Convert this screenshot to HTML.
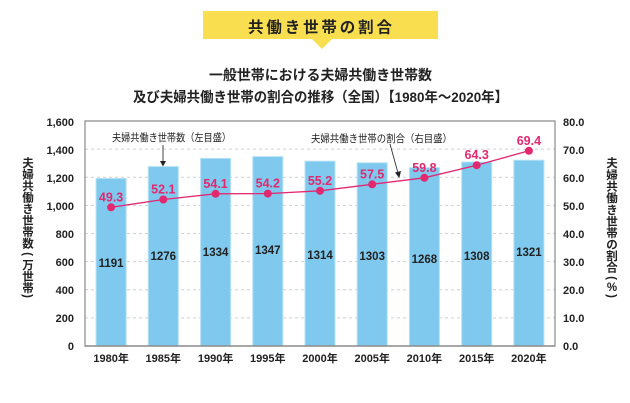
<!DOCTYPE html>
<html><head><meta charset="utf-8"><style>
html,body{margin:0;padding:0;background:#fff;}
svg{display:block;}
text{font-family:"Liberation Sans","Noto Sans CJK JP",sans-serif;}
</style></head><body>
<svg width="630" height="403" viewBox="0 0 630 403" xmlns="http://www.w3.org/2000/svg">
<!-- banner -->
<rect x="203" y="11" width="235" height="28" fill="#f9df4f"/>
<polygon points="312,39 332,39 322,49" fill="#f9df4f"/>
<text x="320" y="32.5" font-size="15.5" font-weight="bold" text-anchor="middle" textLength="144" lengthAdjust="spacing" fill="#222">共働き世帯の割合</text>
<!-- titles -->
<text x="320.5" y="80" font-size="14" font-weight="bold" text-anchor="middle" textLength="223" lengthAdjust="spacingAndGlyphs" fill="#222">一般世帯における夫婦共働き世帯数</text>
<text x="320.5" y="102" font-size="14" font-weight="bold" text-anchor="middle" textLength="375" lengthAdjust="spacingAndGlyphs" fill="#222">及び夫婦共働き世帯の割合の推移（全国）【1980年～2020年】</text>

<!-- grid -->
<g stroke="#cfcfcf" stroke-width="1" stroke-dasharray="3,3">
<line x1="85" y1="149.1" x2="555" y2="149.1"/>
<line x1="85" y1="177.3" x2="555" y2="177.3"/>
<line x1="85" y1="205.4" x2="555" y2="205.4"/>
<line x1="85" y1="233.5" x2="555" y2="233.5"/>
<line x1="85" y1="261.6" x2="555" y2="261.6"/>
<line x1="85" y1="289.8" x2="555" y2="289.8"/>
<line x1="85" y1="317.9" x2="555" y2="317.9"/>
</g>

<!-- bars -->
<g fill="#7ec9ed" stroke="#b5e1f6" stroke-width="1">
<rect x="96.1" y="178.5" width="30" height="167.5"/>
<rect x="148.3" y="166.6" width="30" height="179.4"/>
<rect x="200.6" y="158.4" width="30" height="187.6"/>
<rect x="252.8" y="156.6" width="30" height="189.4"/>
<rect x="305" y="161.2" width="30" height="184.8"/>
<rect x="357.2" y="162.8" width="30" height="183.2"/>
<rect x="409.4" y="167.7" width="30" height="178.3"/>
<rect x="461.7" y="162.1" width="30" height="183.9"/>
<rect x="513.9" y="160.2" width="30" height="185.8"/>
</g>

<!-- frame -->
<g stroke="#8a8a8a" stroke-width="1.2" fill="none">
<polyline points="85,346 85,121 555,121 555,346"/>
</g>
<line x1="84.4" y1="346" x2="555.6" y2="346" stroke="#8a8a8a" stroke-width="1.4"/>

<!-- bar values -->
<g font-size="11.5" font-weight="bold" fill="#222" text-anchor="middle">
<text x="111.1" y="267">1191</text>
<text x="163.3" y="260">1276</text>
<text x="215.6" y="256">1334</text>
<text x="267.8" y="254">1347</text>
<text x="320" y="259">1314</text>
<text x="372.2" y="260">1303</text>
<text x="424.4" y="263">1268</text>
<text x="476.7" y="260">1308</text>
<text x="528.9" y="256">1321</text>
</g>

<!-- line -->
<polyline fill="none" stroke="#e2286f" stroke-width="1.3" points="111.1,207.3 163.3,199.5 215.6,193.8 267.8,193.6 320,190.8 372.2,184.3 424.4,177.8 476.7,165.2 528.9,150.8"/>
<g fill="#e2286f">
<circle cx="111.1" cy="207.3" r="4"/>
<circle cx="163.3" cy="199.5" r="4"/>
<circle cx="215.6" cy="193.8" r="4"/>
<circle cx="267.8" cy="193.6" r="4"/>
<circle cx="320" cy="190.8" r="4"/>
<circle cx="372.2" cy="184.3" r="4"/>
<circle cx="424.4" cy="177.8" r="4"/>
<circle cx="476.7" cy="165.2" r="4"/>
<circle cx="528.9" cy="150.8" r="4"/>
</g>
<g font-size="12.5" font-weight="bold" fill="#e2286f" text-anchor="middle">
<text x="111.1" y="201.3">49.3</text>
<text x="163.3" y="193.5">52.1</text>
<text x="215.6" y="187.8">54.1</text>
<text x="267.8" y="187.6">54.2</text>
<text x="320" y="184.8">55.2</text>
<text x="372.2" y="178.3">57.5</text>
<text x="424.4" y="171.8">59.8</text>
<text x="476.7" y="159.2">64.3</text>
<text x="528.9" y="144.8">69.4</text>
</g>

<!-- annotations -->
<text x="112" y="141" font-size="10.5" fill="#222" textLength="119" lengthAdjust="spacingAndGlyphs">夫婦共働き世帯数（左目盛）</text>
<line x1="163" y1="145" x2="163" y2="162" stroke="#333" stroke-width="0.9"/>
<polygon points="160,161 166,161 163,166.5" fill="#222"/>
<text x="311" y="142" font-size="10.5" fill="#222" textLength="141" lengthAdjust="spacingAndGlyphs">夫婦共働き世帯の割合（右目盛）</text>
<line x1="390" y1="144" x2="398" y2="173" stroke="#333" stroke-width="0.9"/>
<polygon points="395,172.5 401,171 399.3,178" fill="#222"/>

<!-- left ticks -->
<g font-size="11" font-weight="bold" fill="#222" text-anchor="end">
<text x="74" y="126">1,600</text>
<text x="74" y="154">1,400</text>
<text x="74" y="182">1,200</text>
<text x="74" y="210">1,000</text>
<text x="74" y="238">800</text>
<text x="74" y="266">600</text>
<text x="74" y="294">400</text>
<text x="74" y="322">200</text>
<text x="74" y="350">0</text>
</g>
<!-- right ticks -->
<g font-size="11" font-weight="bold" fill="#222">
<text x="563" y="126">80.0</text>
<text x="563" y="154">70.0</text>
<text x="563" y="182">60.0</text>
<text x="563" y="210">50.0</text>
<text x="563" y="238">40.0</text>
<text x="563" y="266">30.0</text>
<text x="563" y="294">20.0</text>
<text x="563" y="322">10.0</text>
<text x="563" y="350">0.0</text>
</g>
<!-- x labels -->
<g font-size="11" font-weight="bold" fill="#222" text-anchor="middle">
<text x="111.1" y="362">1980年</text>
<text x="163.3" y="362">1985年</text>
<text x="215.6" y="362">1990年</text>
<text x="267.8" y="362">1995年</text>
<text x="320" y="362">2000年</text>
<text x="372.2" y="362">2005年</text>
<text x="424.4" y="362">2010年</text>
<text x="476.7" y="362">2015年</text>
<text x="528.9" y="362">2020年</text>
</g>

<!-- left axis title -->
<g font-size="11.5" font-weight="bold" fill="#222" text-anchor="middle">
<text x="28" y="167">夫</text>
<text x="28" y="178.5">婦</text>
<text x="28" y="190">共</text>
<text x="28" y="201.5">働</text>
<text x="28" y="213">き</text>
<text x="28" y="224.5">世</text>
<text x="28" y="236">帯</text>
<text x="28" y="247.5">数</text>
<text x="28" y="258" transform="rotate(90 28 254)">(</text>
<text x="28" y="269">万</text>
<text x="28" y="280.5">世</text>
<text x="28" y="292">帯</text>
<text x="28" y="300" transform="rotate(90 28 296)">)</text>
</g>
<!-- right axis title -->
<g font-size="11.5" font-weight="bold" fill="#222" text-anchor="middle">
<text x="612" y="167">夫</text>
<text x="612" y="179">婦</text>
<text x="612" y="190.5">共</text>
<text x="612" y="202">働</text>
<text x="612" y="214">き</text>
<text x="612" y="225.5">世</text>
<text x="612" y="237">帯</text>
<text x="612" y="248.5">の</text>
<text x="612" y="260">割</text>
<text x="612" y="271.5">合</text>
<text x="612" y="282" transform="rotate(90 612 278)">(</text>
<text x="612" y="291">%</text>
<text x="612" y="300" transform="rotate(90 612 296)">)</text>
</g>
</svg>
</body></html>
